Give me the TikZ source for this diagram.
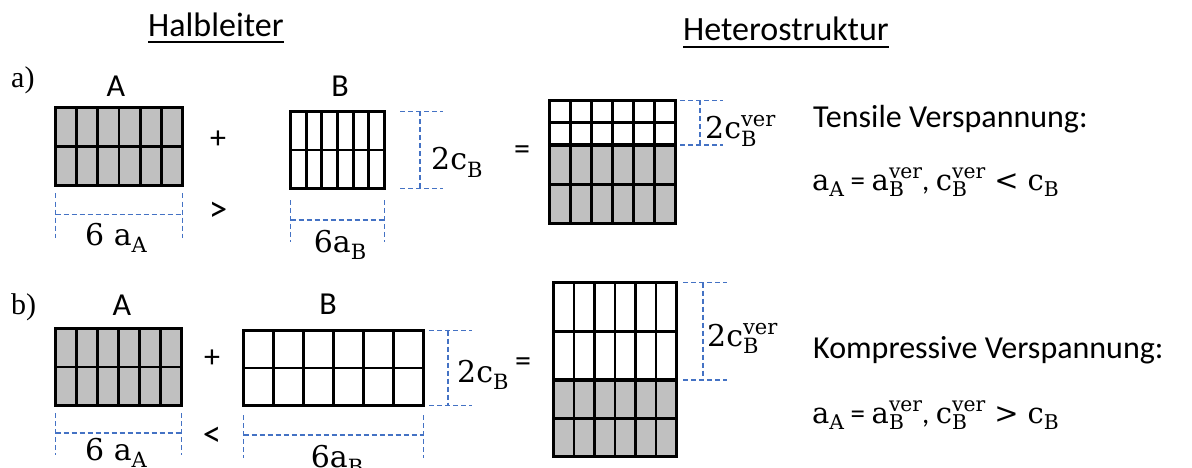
\documentclass[tikz,border=0pt]{standalone}
\usepackage{graphicx}
\usepackage{fontspec}
\setmainfont{Carlito}
\newfontfamily\ser{Liberation Serif}
\newfontfamily\cam{DejaVu Serif}
\usetikzlibrary{calc}
\definecolor{cellgray}{RGB}{192,192,192}
\definecolor{dimblue}{RGB}{68,114,196}
% lowered / raised indices for the lattice constants
\newcommand\lo[1]{\raisebox{-0.24em}{\scalebox{0.7}{#1}}}
\newcommand\hi[1]{\raisebox{0.4em}{\scalebox{0.7}{#1}}}
\newcommand\losup[2]{\rlap{\lo{#1}}\hi{#2}}
% relation sign between the c constants
\newcommand\rel[1]{\hspace{9pt}{\cam #1}\hspace{9pt}}
% one crystal layer: 2 rows x 6 unit cells
% #1 name, #2 #3 centre, #4 width, #5 height, #6 fill
\newcommand\layer[6]{%
  \node[layerbox, fill=#6, minimum width=#4, minimum height=#5] (#1) at (#2,#3) {};
  \draw[cellline] (#1.west) -- (#1.east);
  \foreach \k in {1,...,5}
    \draw[cellline] ($(#1.north west)!\k/6!(#1.north east)$) -- ($(#1.south west)!\k/6!(#1.south east)$);
}
% dashed width marker below a node: tick start, tick end, bar offset
\newcommand\widthdim[4]{%
  \draw[dimline] ($(#1.south west)+(0,#2)$) -- ($(#1.south west)+(0,#3)$);
  \draw[dimline] ($(#1.south east)+(0,#2)$) -- ($(#1.south east)+(0,#3)$);
  \draw[dimline] ($(#1.south west)+(0,#4)$) -- ($(#1.south east)+(0,#4)$);
}
% dashed height marker right of a node: tick start, tick end, bar offset
\newcommand\heightdim[4]{%
  \draw[dimline] ($(#1.north east)+(#2,0)$) -- ($(#1.north east)+(#3,0)$);
  \draw[dimline] ($(#1.south east)+(#2,0)$) -- ($(#1.south east)+(#3,0)$);
  \draw[dimline] ($(#1.north east)+(#4,0)$) -- ($(#1.south east)+(#4,0)$);
}
\begin{document}
\begin{tikzpicture}[x=1pt,y=-1pt,
  layerbox/.style={draw, line width=3.3pt, inner sep=0pt, outer sep=0pt, rectangle},
  cellline/.style={line width=2.8pt},
  dimline/.style={draw=dimblue, line width=1.5pt, dash pattern=on 5pt off 3pt},
  lab/.style={font=\fontsize{32}{38}\selectfont, inner sep=0pt},
  cmp/.style={font=\fontsize{37}{40}\selectfont, inner sep=0pt},
  head/.style={font=\fontsize{34}{40}\selectfont, inner sep=0pt, anchor=base west},
  fml/.style={font=\cam\fontsize{30}{36}\selectfont, inner sep=0pt},
  rfml/.style={font=\fontsize{29}{36}\selectfont, inner sep=0pt, anchor=base west},
  part/.style={font=\ser\fontsize{30}{36}\selectfont, inner sep=0pt, anchor=base west}]
\useasboundingbox[fill=white] (0,0) rectangle (1192,468);

% headings
\node[head] (h1) at (148,37) {Halbleiter};
\draw[line width=2pt] ($(h1.base west)+(0,5)$) -- ($(h1.base east)+(0,5)$);
\node[head] (h2) at (683,41) {Heterostruktur};
\draw[line width=2pt] ($(h2.base west)+(0,6)$) -- ($(h2.base east)+(0,6)$);

% ---------------- a) tensile strain ----------------
\node[part] (pa) at (11,88) {a)};
\node[lab, anchor=base] (lA1) at (116,97) {A};
\node[lab, anchor=base] (lB1) at (340,97) {B};
\layer{Aa}{119}{146.5}{127}{78}{cellgray}
\layer{Ba}{337.5}{150}{94}{77}{white}
\layer{HaB}{612.5}{122.75}{126}{44.5}{white}
\layer{HaA}{612.5}{184.25}{126}{78.5}{cellgray}
\node[lab] (plus1) at (218,140) {+};
\node[cmp] (gt) at (218,212) {>};
\node[lab] (eq1) at (522,153) {=};

\widthdim{Aa}{8}{52}{29}
\node[fml, anchor=base] (wa1) at (116,245) {6 a\lo{A}};
\widthdim{Ba}{11.5}{53.5}{31.5}
\node[fml, anchor=base] (wb1) at (340,252) {6a\lo{B}};
\heightdim{Ba}{15.5}{58.5}{35.5}
\node[fml, anchor=base west] (hb1) at (431,170) {2c\lo{B}};
\heightdim{HaB}{4.5}{47.5}{24.5}
\node[fml, anchor=base west] (hh1) at (705,139) {2c\losup{B}{ver}};

\node[lab, anchor=base west] (t1) at (813,128) {Tensile Verspannung:};
\node[rfml] (f1) at (812,190)
  {{\cam a\lo{A}} = {\cam a\losup{B}{ver}}, {\cam c\losup{B}{ver}\rel{<}c\lo{B}}};

% ---------------- b) compressive strain ----------------
\node[part] (pb) at (11,314) {b)};
\node[lab, anchor=base] (lA2) at (122,315) {A};
\node[lab, anchor=base] (lB2) at (328,314) {B};
\layer{Ab}{118.5}{367}{126}{77}{cellgray}
\layer{Bb}{333.5}{368}{180}{75}{white}
\layer{HbB}{615}{331.25}{123}{97.5}{white}
\layer{HbA}{615}{418.25}{123}{76.5}{cellgray}
\node[lab] (plus2) at (212,359) {+};
\node[cmp] (lt) at (212,437) {<};
\node[lab] (eq2) at (523,365) {=};

\widthdim{Ab}{7.5}{49.5}{27.5}
\node[fml, anchor=base] (wa2) at (116,460) {6 a\lo{A}};
\widthdim{Bb}{9.5}{52.5}{29.5}
\node[fml, anchor=base] (wb2) at (337,467) {6a\lo{B}};
\heightdim{Bb}{5.5}{48.5}{24.5}
\node[fml, anchor=base west] (hb2) at (457,382) {2c\lo{B}};
\heightdim{HbB}{6.5}{50.5}{26.5}
\node[fml, anchor=base west] (hh2) at (707,346) {2c\losup{B}{ver}};

\node[lab, anchor=base west] (t2) at (813,358) {Kompressive Verspannung:};
\node[rfml] (f2) at (812,423)
  {{\cam a\lo{A}} = {\cam a\losup{B}{ver}}, {\cam c\losup{B}{ver}\rel{>}c\lo{B}}};
\end{tikzpicture}
\end{document}
